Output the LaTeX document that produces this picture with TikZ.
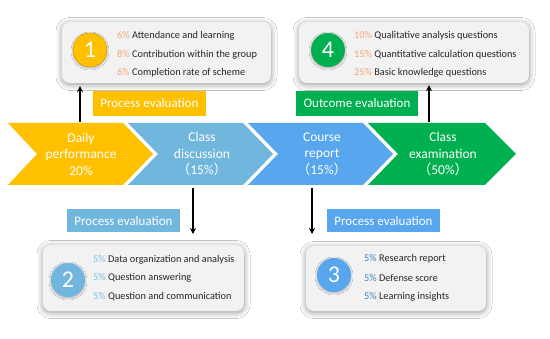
\documentclass[tikz,border=0pt]{standalone}
\usepackage{fontspec}
\setmainfont{Carlito}
\newfontfamily\cjk{Noto Sans CJK SC}
\usetikzlibrary{arrows.meta,shadows.blur}
\definecolor{cyel}{HTML}{FFC000}
\definecolor{clblue}{HTML}{71B6DD}
\definecolor{cblue}{HTML}{58A6EE}
\definecolor{cgreen}{HTML}{00B050}
\definecolor{corange}{HTML}{F4A777}
\definecolor{cpct2}{HTML}{7CC0E6}
\definecolor{cpct3}{HTML}{3C7FC0}
\definecolor{ctext}{HTML}{262626}
\definecolor{ccard}{HTML}{F2F2F2}
\newcommand{\lp}{{\cjk （}}
\newcommand{\rp}{{\cjk ）}}
\tikzset{
  chevtext/.style={text=white, align=center, font=\fontsize{13.5}{16.5}\selectfont},
  lab/.style={text=white, minimum height=25pt, inner xsep=4pt, font=\fontsize{13}{15}\selectfont},
  card/.style={fill=ccard, rounded corners=8pt, blur shadow={shadow blur steps=14, shadow xshift=0pt, shadow yshift=-1.5pt, shadow blur radius=6pt, shadow opacity=40}},
  numc/.style={circle, minimum size=34pt, inner sep=0pt, text=white, font=\fontsize{24}{24}\selectfont, blur shadow={shadow blur steps=8, shadow xshift=0pt, shadow yshift=-1pt, shadow blur radius=2pt, shadow opacity=30}},
  item/.style={anchor=west, inner sep=0pt, text=ctext, font=\fontsize{10.3}{12}\selectfont},
  arr/.style={line width=1.7pt, -{Stealth[length=6pt,width=6pt]}}
}
\begin{document}
\begin{tikzpicture}[x=1pt,y=-1pt]
\useasboundingbox (0,0) rectangle (550,339);
\fill[white] (0,0) rectangle (550,339);

% chevrons
\fill[cyel]   (8,123) -- (123,123) -- (153,154) -- (123,185) -- (8,185) -- (37,154) -- cycle;
\fill[clblue] (128,123) -- (243,123) -- (273,154) -- (243,185) -- (128,185) -- (158,154) -- cycle;
\fill[cblue]  (248,123) -- (363,123) -- (393,154) -- (363,185) -- (248,185) -- (278,154) -- cycle;
\fill[cgreen] (368,123) -- (485,123) -- (516,154) -- (485,185) -- (368,185) -- (398,154) -- cycle;

\node[chevtext] (t1) at (81,154) {Daily\\performance\\20\%};
\node[chevtext] (t2) at (202,154) {Class\\discussion\\\lp15\%\rp};
\node[chevtext] (t3) at (322,154) {Course\\report\\\lp15\%\rp};
\node[chevtext] (t4) at (443,154) {Class\\examination\\\lp50\%\rp};

% label boxes
\node[lab, fill=cyel, minimum width=113pt] (p1) at (149.5,103.5) {Process evaluation};
\node[lab, fill=cgreen, minimum width=122pt] (p4) at (357,103.5) {Outcome evaluation};
\node[lab, fill=clblue, minimum width=113pt, minimum height=23pt] (p2) at (123.5,221) {Process evaluation};
\node[lab, fill=cblue, minimum width=113pt, minimum height=23pt] (p3) at (383.5,221) {Process evaluation};

% cards
\node[card, minimum width=209pt, minimum height=61pt] (b1) at (166.5,52.5) {};
\node[card, minimum width=230pt, minimum height=61pt] (b4) at (414,52.5) {};
\node[card, minimum width=201pt, minimum height=66pt] (b2) at (143.5,278) {};
\node[card, minimum width=180pt, minimum height=65pt] (b3) at (396,278.5) {};

\node[numc, fill=cyel, draw=cyel!85!black, line width=0.6pt] (n1) at (90,50) {1};
\node[numc, fill=cgreen] (n4) at (328,50) {4};
\node[numc, fill=clblue] (n2) at (68,280) {2};
\node[numc, fill=cblue] (n3) at (334,275) {3};

% items
\node[item] (i11) at (117,36) {\textcolor{corange}{6\%} Attendance and learning};
\node[item] (i12) at (117,55) {\textcolor{corange}{8\%} Contribution within the group};
\node[item] (i13) at (117,73) {\textcolor{corange}{6\%} Completion rate of scheme};

\node[item] (i41) at (354,36) {\textcolor{corange}{10\%} Qualitative analysis questions};
\node[item] (i42) at (354,55) {\textcolor{corange}{15\%} Quantitative calculation questions};
\node[item] (i43) at (354,73) {\textcolor{corange}{25\%} Basic knowledge questions};

\node[item] (i21) at (93,260) {\textcolor{cpct2}{5\%} Data organization and analysis};
\node[item] (i22) at (93,278) {\textcolor{cpct2}{5\%} Question answering};
\node[item] (i23) at (93,297) {\textcolor{cpct2}{5\%} Question and communication};

\node[item] (i31) at (364,259) {\textcolor{cpct3}{5\%} Research report};
\node[item] (i32) at (364,278) {\textcolor{cpct3}{5\%} Defense score};
\node[item] (i33) at (364,297) {\textcolor{cpct3}{5\%} Learning insights};

% arrows
\coordinate (a1) at (80,122);
\coordinate (a4) at (429,122);
\coordinate (a2) at (193,188);
\coordinate (a3) at (312,188);
\coordinate (e2) at (193,234);
\coordinate (e3) at (312,234);
\draw[arr, shorten >=3pt] (a1) -- (a1 |- b1.south);
\draw[arr, shorten >=2pt] (a4) -- (a4 |- b4.south);
\draw[arr] (a2) -- (e2);
\draw[arr] (a3) -- (e3);
\end{tikzpicture}
\end{document}
